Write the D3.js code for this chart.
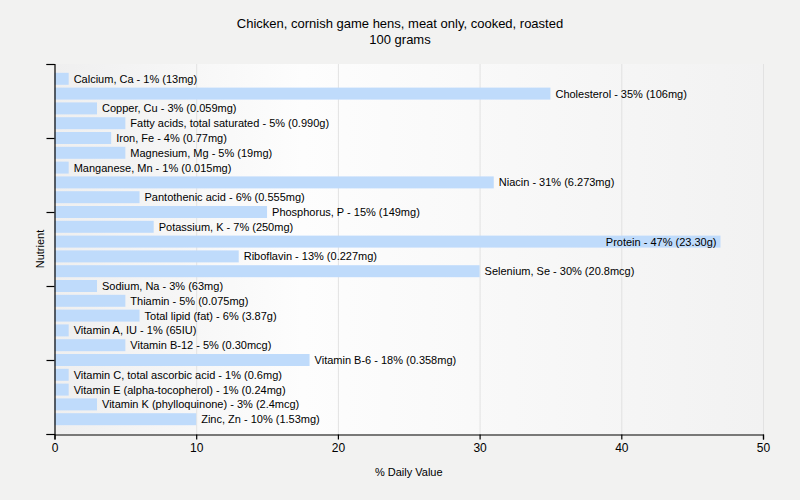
<!DOCTYPE html>
<html>
<head>
<meta charset="utf-8">
<script src="https://cdn.jsdelivr.net/npm/d3@7"></script>
<style>
  body { margin: 0; background: #f2f2f1; }
  text { font-family: "Liberation Sans", Arial, sans-serif; }
</style>
</head>
<body>
<div id="chart"></div>
<script>
const width = 800, height = 500;
const margin = { top: 64, right: 37, bottom: 66, left: 54.5 };

const nutrients = ["Calcium, Ca", "Cholesterol", "Copper, Cu", "Fatty acids, total saturated",
  "Iron, Fe", "Magnesium, Mg", "Manganese, Mn", "Niacin", "Pantothenic acid",
  "Phosphorus, P", "Potassium, K", "Protein", "Riboflavin", "Selenium, Se", "Sodium, Na",
  "Thiamin", "Total lipid (fat)", "Vitamin A, IU", "Vitamin B-12", "Vitamin B-6",
  "Vitamin C, total ascorbic acid", "Vitamin E (alpha-tocopherol)",
  "Vitamin K (phylloquinone)", "Zinc, Zn"];
const dailyValues = [1, 35, 3, 5, 4, 5, 1, 31, 6, 15, 7, 47, 13, 30, 3, 5, 6, 1, 5, 18, 1, 1, 3, 10];
const amounts = ["13mg", "106mg", "0.059mg", "0.990g", "0.77mg", "19mg", "0.015mg", "6.273mg",
  "0.555mg", "149mg", "250mg", "23.30g", "0.227mg", "20.8mcg", "63mg", "0.075mg", "3.87g",
  "65IU", "0.30mcg", "0.358mg", "0.6mg", "0.24mg", "2.4mcg", "1.53mg"];
const xTicks = [0, 10, 20, 30, 40, 50];

const rows = nutrients.map((n, i) => ({ name: n, value: dailyValues[i], amount: amounts[i] }));

const svg = d3.select("#chart").append("svg")
    .attr("width", width)
    .attr("height", height);

const x = d3.scaleLinear()
    .domain([0, 50])
    .range([margin.left, width - margin.right]);

const y = d3.scaleBand()
    .domain(nutrients)
    .range([margin.top, height - margin.bottom])
    .paddingInner(0.19)
    .paddingOuter(0.595);

// plot background
const grad = svg.append("defs").append("linearGradient")
    .attr("id", "bg");
grad.append("stop").attr("offset", "0%").attr("stop-color", "#efefef");
grad.append("stop").attr("offset", "35%").attr("stop-color", "#fdfdfd");
grad.append("stop").attr("offset", "100%").attr("stop-color", "#f2f2f2");

svg.append("rect")
    .attr("x", x(0))
    .attr("y", margin.top)
    .attr("width", x(50) - x(0))
    .attr("height", height - margin.bottom - margin.top)
    .attr("fill", "url(#bg)");

// grid
svg.append("g")
    .selectAll("line")
    .data(xTicks.slice(1))
    .enter()
    .append("line")
    .attr("x1", d => x(d) + 0.5)
    .attr("x2", d => x(d) + 0.5)
    .attr("y1", margin.top)
    .attr("y2", height - margin.bottom)
    .attr("stroke", "#e2e2e2");

// title
const title = svg.append("text")
    .attr("text-anchor", "middle")
    .attr("font-size", 13);
title.append("tspan").attr("x", 400).attr("y", 28).text("Chicken, cornish game hens, meat only, cooked, roasted");
title.append("tspan").attr("x", 400).attr("y", 44).text("100 grams");

// bars
svg.append("g")
    .selectAll("rect")
    .data(rows)
    .enter()
    .append("rect")
    .attr("x", x(0))
    .attr("y", d => y(d.name))
    .attr("width", d => x(d.value) - x(0))
    .attr("height", y.bandwidth())
    .attr("fill", "#bfdbfb");

// labels
svg.append("g")
    .selectAll("text")
    .data(rows)
    .enter()
    .append("text")
    .attr("font-size", 11)
    .attr("fill", "#000")
    .attr("y", d => y(d.name) + y.bandwidth() / 2 + 4)
    .attr("x", d => d.value > 40 ? x(d.value) - 4 : x(d.value) + 5)
    .attr("text-anchor", d => d.value > 40 ? "end" : "start")
    .text(d => `${d.name} - ${d.value}% (${d.amount})`);

// x axis
const xAxis = svg.append("g")
    .attr("transform", `translate(0,${height - margin.bottom + 0.5})`)
    .call(d3.axisBottom(x).tickValues(xTicks).tickSize(5).tickPadding(4));
xAxis.selectAll("text").attr("font-size", 12).attr("fill", "#000")
    .style("font-family", "'Liberation Sans', Arial, sans-serif");

// y axis (plain ticks, no labels)
const yTickScale = d3.scaleLinear().domain([0, 5]).range([margin.top, height - margin.bottom]);
const yAxis = svg.append("g")
    .attr("transform", `translate(${x(0)},0)`)
    .call(d3.axisLeft(yTickScale).ticks(5).tickSize(8).tickFormat(""));
svg.selectAll(".domain, .tick line").attr("stroke", "#000").attr("stroke-width", 1.2);

// axis titles
svg.append("text")
    .attr("x", (x(0) + x(50)) / 2)
    .attr("y", 476)
    .attr("text-anchor", "middle")
    .attr("font-size", 11)
    .text("% Daily Value");

svg.append("text")
    .attr("transform", `translate(44,${(margin.top + height - margin.bottom) / 2}) rotate(-90)`)
    .attr("text-anchor", "middle")
    .attr("font-size", 11)
    .text("Nutrient");
</script>
</body>
</html>
